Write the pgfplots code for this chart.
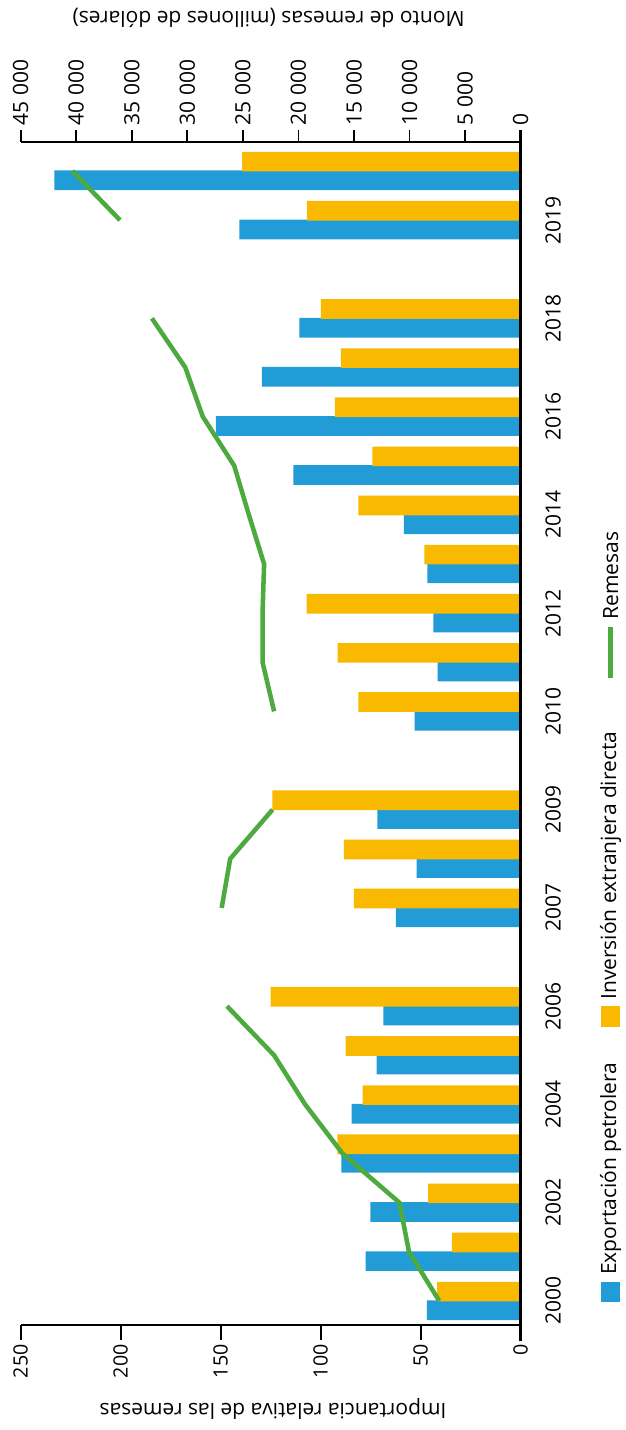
\documentclass[border=0pt]{standalone}
\usepackage{fontspec}
\setmainfont{Open Sans}
\usepackage{pgfplots}
\usepackage{pgfplotstable}
\pgfplotsset{compat=1.18}
\definecolor{cblue}{RGB}{34,156,214}
\definecolor{cyellow}{RGB}{249,185,0}
\definecolor{cgreen}{RGB}{77,170,63}

\pgfplotstableread{
pos year exp ied
0 2000 46.9 41.8
1 2001 77.5 34.4
2 2002 75.1 46.3
3 2003 89.6 91.6
4 2004 84.5 79.0
5 2005 72.0 87.5
6 2006 68.7 125.0
8 2007 62.4 83.4
9 2008 52.0 88.4
10 2009 71.7 124.2
12 2010 53.0 81.2
13 2011 41.5 91.5
14 2012 43.7 107.0
15 2013 46.7 48.2
16 2014 58.4 81.2
17 2015 113.7 74.2
18 2016 152.4 92.9
19 2017 129.4 89.9
20 2018 110.7 99.9
22 2019 140.7 106.9
23 2020 233.1 139.3
}\bardata

\pgfplotstableread{
pos rem
0 7330
1 10050
2 10910
3 16030
4 19400
5 22190
6 26430
7 nan
8 26910
9 26140
10 22330
11 nan
12 22190
13 23230
14 23230
15 23090
16 24460
17 25780
18 28610
19 30180
20 33190
21 nan
22 36060
23 40350
}\remdata

\begin{document}
\begin{tikzpicture}[font=\fontsize{15.75}{19}\selectfont]
\useasboundingbox (0pt,0pt) rectangle (468.75pt,1072.5pt);
\begin{axis}[
  at={(15.5pt,78.75pt)}, anchor=south west,
  scale only axis, width=375pt, height=887.25pt,
  x dir=reverse, xmin=0, xmax=250,
  ymin=-0.49, ymax=23.59,
  axis x line=bottom,
  axis y line=right,
  axis line style={-},
  x axis line style={-, line width=1.6pt},
  y axis line style={draw=none},
  tick align=outside,
  scaled x ticks=false,
  xtick={0,50,100,150,200,250},
  xticklabels={0,50,100,150,200,250},
  xtick style={line width=1.4pt, black},
  major tick length=11pt,
  xticklabel style={rotate=90, anchor=east, font=\fontsize{14.75}{18}\selectfont},
  ytick={0,2,4,6,8,10,12,14,16,18,20,22},
  yticklabels={2000,2002,2004,2006,2007,2009,2010,2012,2014,2016,2018,2019},
  ytick style={draw=none},
  yticklabel style={xshift=4pt, rotate=90, anchor=north},
  xbar, bar width=0.4,
]
\addplot[fill=cblue, draw=none, bar shift=-0.19] table[x=exp, y=pos]{\bardata};
\addplot[fill=cyellow, draw=none, bar shift=0.19] table[x=ied, y=pos]{\bardata};
\end{axis}
\begin{axis}[
  at={(15.5pt,78.75pt)}, anchor=south west,
  scale only axis, width=375pt, height=887.25pt,
  x dir=reverse, xmin=0, xmax=45000,
  ymin=-0.49, ymax=23.59,
  axis x line=top,
  axis y line=none,
  axis line style={-},
  x axis line style={-, line width=1.6pt},
  tick align=outside,
  scaled x ticks=false,
  major tick length=9pt,
  xtick={0,5000,10000,15000,20000,25000,30000,35000,40000,45000},
  xticklabels={0,{5 000},{10 000},{15 000},{20 000},{25 000},{30 000},{35 000},{40 000},{45 000}},
  xticklabel style={rotate=90, anchor=west},
  xtick style={line width=1.4pt, black},
  ytick=\empty,
]
\addplot[cgreen, line width=3.4pt, unbounded coords=jump] table[x=rem, y=pos]{\remdata};
\end{axis}
\draw[line width=2.5pt] (390.5pt,66.75pt) -- (390.5pt,975pt);
\node[rotate=180] at (204.75pt,15.75pt) {Importancia relativa de las remesas};
\node[rotate=180] at (201.4pt,1059pt) {Monto de remesas (millones de dólares)};
\fill[cblue] (450.75pt,96pt) rectangle (465pt,111pt);
\node[rotate=90, anchor=west, inner sep=0pt] at (458pt,116.25pt) {Exportación petrolera};
\fill[cyellow] (450.75pt,302.25pt) rectangle (465pt,318pt);
\node[rotate=90, anchor=west, inner sep=0pt] at (458pt,322.5pt) {Inversión extranjera directa};
\draw[cgreen, line width=3.75pt] (457.9pt,564pt) -- (457.9pt,602.25pt);
\node[rotate=90, anchor=west, inner sep=0pt] at (458pt,607.5pt) {Remesas};
\end{tikzpicture}
\end{document}
